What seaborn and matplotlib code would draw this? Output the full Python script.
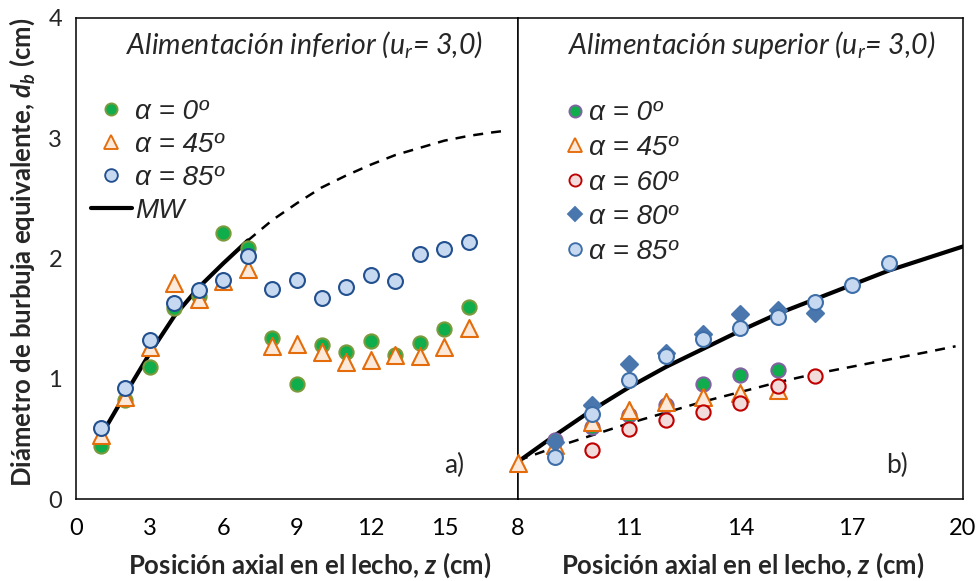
import matplotlib
matplotlib.use("Agg")
import matplotlib.pyplot as plt
import seaborn as sns
import pandas as pd
from matplotlib.lines import Line2D

# ---------------- data: panel a) bottom feed ----------------
z_left = [1, 2, 3, 4, 5, 6, 7, 8, 9, 10, 11, 12, 13, 14, 15, 16]
a0_left = [0.44, 0.82, 1.10, 1.59, 1.69, 2.21, 2.09, 1.34, 0.96, 1.28, 1.22, 1.31, 1.20, 1.30, 1.41, 1.60]
a45_left = [0.53, 0.85, 1.26, 1.80, 1.66, 1.81, 1.91, 1.27, 1.29, 1.22, 1.14, 1.16, 1.20, 1.19, 1.26, 1.42]
a85_left = [0.59, 0.92, 1.32, 1.63, 1.74, 1.82, 2.02, 1.75, 1.82, 1.67, 1.76, 1.86, 1.81, 2.04, 2.08, 2.14]
mw_left_z_solid = [1, 2, 3, 4, 5, 6, 7]
mw_left_solid = [0.52, 0.87, 1.21, 1.52, 1.76, 1.96, 2.15]
mw_left_z_dash = [7, 8, 9, 10, 11, 12, 13, 14, 15, 16, 17, 17.4]
mw_left_dash = [2.15, 2.32, 2.46, 2.59, 2.69, 2.78, 2.86, 2.92, 2.98, 3.02, 3.05, 3.06]

# ---------------- data: panel b) top feed ----------------
z_r0 = [9, 10, 11, 12, 13, 14, 15]
a0_right = [0.49, 0.60, 0.70, 0.78, 0.96, 1.03, 1.07]
z_r45 = [8, 9, 10, 11, 12, 13, 14, 15]
a45_right = [0.30, 0.45, 0.64, 0.74, 0.81, 0.85, 0.88, 0.91]
z_r60 = [10, 11, 12, 13, 14, 15, 16]
a60_right = [0.41, 0.58, 0.66, 0.72, 0.80, 0.94, 1.02]
z_r80 = [9, 10, 11, 12, 13, 14, 15, 16]
a80_right = [0.47, 0.78, 1.12, 1.21, 1.37, 1.54, 1.57, 1.55]
z_r85 = [9, 10, 11, 12, 13, 14, 15, 16, 17, 18]
a85_right = [0.35, 0.71, 0.99, 1.19, 1.33, 1.42, 1.51, 1.64, 1.78, 1.96]
mw_right_z = [8, 9, 10, 11, 12, 13, 14, 15, 16, 17, 18, 19, 20]
mw_right_solid = [0.31, 0.53, 0.74, 0.93, 1.10, 1.25, 1.40, 1.54, 1.66, 1.78, 1.90, 2.00, 2.10]
mw_right_z_dash = [8, 9, 10, 11, 12, 13, 14, 15, 16, 17, 18, 19, 19.8]
mw_right_dash = [0.32, 0.43, 0.53, 0.63, 0.72, 0.81, 0.89, 0.97, 1.04, 1.10, 1.16, 1.22, 1.27]

xticks_left = [0, 3, 6, 9, 12, 15]
xticks_right = [8, 11, 14, 17, 20]
yticks = [0, 1, 2, 3, 4]
title_left = "Alimentación inferior (u$_r$= 3,0)"
title_right = "Alimentación superior (u$_r$= 3,0)"
xlabel = "Posición axial en el lecho, $\\mathbf{z}$ (cm)"
ylabel = "Diámetro de burbuja equivalente, $\\mathbf{d_b}$ (cm)"

sns.set_theme(style="white")
plt.rcParams["font.family"] = ["Lato", "DejaVu Sans"]
plt.rcParams["mathtext.fontset"] = "custom"
plt.rcParams["mathtext.it"] = "Lato:italic"
plt.rcParams["mathtext.rm"] = "Lato"
plt.rcParams["mathtext.bf"] = "Lato:italic:bold"
plt.rcParams["mathtext.default"] = "it"

W, H = 979, 581
fig = plt.figure(figsize=(W / 100, H / 100), dpi=100)
axL = fig.add_axes([76 / W, (H - 499) / H, (518 - 76) / W, (499 - 18) / H])
axR = fig.add_axes([518 / W, (H - 499) / H, (963 - 518) / W, (499 - 18) / H])

TICK_FS = 17
LEG_FS = 20
TITLE_FS = 20.5
LAB_FS = 18.5

def scat(ax, x, y, marker, s, fc, ec, label, lw=1.5, z=3):
    sns.scatterplot(x=x, y=y, ax=ax, marker=marker, s=s, color=fc,
                    edgecolor=ec, linewidth=lw, label=label, zorder=z, legend=False)
    return Line2D([], [], ls="none", marker=marker, markersize=(s ** 0.5) * 0.85,
                  markerfacecolor=fc, markeredgecolor=ec, markeredgewidth=lw * 0.9)

# ---- left panel ----
sns.lineplot(x=mw_left_z_solid, y=mw_left_solid, ax=axL, color="black", lw=3.0,
             estimator=None, legend=False, zorder=2)
sns.lineplot(x=mw_left_z_dash, y=mw_left_dash, ax=axL, color="black", lw=1.8,
             estimator=None, legend=False, zorder=2, linestyle=(0, (4, 3.2)))
hL = []
hL.append(scat(axL, z_left, a0_left, "o", 105, "#0fad4b", "#7a9a3c", "α = 0º"))
hL.append(scat(axL, z_left, a45_left, "^", 150, "#fde9d9", "#e46c0a", "α = 45º"))
hL.append(scat(axL, z_left, a85_left, "o", 115, "#c6d9f1", "#22508f", "α = 85º"))
hL.append(Line2D([], [], color="black", lw=3.0))
axL.legend(hL, ["α = 0º", "α = 45º", "α = 85º", "MW"], loc="upper left",
           bbox_to_anchor=(0.008, 0.855), frameon=False, handlelength=1.5,
           handletextpad=0.1, labelspacing=0.25, borderaxespad=0,
           prop={"family": "Liberation Sans", "style": "italic", "size": LEG_FS})

# ---- right panel ----
sns.lineplot(x=mw_right_z, y=mw_right_solid, ax=axR, color="black", lw=3.0,
             estimator=None, legend=False, zorder=2)
sns.lineplot(x=mw_right_z_dash, y=mw_right_dash, ax=axR, color="black", lw=1.8,
             estimator=None, legend=False, zorder=2, linestyle=(0, (4, 3.2)))
hR = []
hR.append(scat(axR, z_r0, a0_right, "o", 105, "#0fad4b", "#8064a2", "α = 0º"))
hR.append(scat(axR, z_r45, a45_right, "^", 150, "#fde9d9", "#e46c0a", "α = 45º"))
hR.append(scat(axR, z_r60, a60_right, "o", 105, "#f2dcdb", "#c00000", "α = 60º"))
hR.append(scat(axR, z_r80, a80_right, "D", 75, "#4a76ae", "#4a76ae", "α = 80º"))
hR.append(scat(axR, z_r85, a85_right, "o", 115, "#c6d9f1", "#3d6ea8", "α = 85º"))
for coll in axR.collections:
    coll.set_clip_on(False)
axR.legend(hR, ["α = 0º", "α = 45º", "α = 60º", "α = 80º", "α = 85º"], loc="upper left",
           bbox_to_anchor=(0.085, 0.852), frameon=False, handlelength=0.6,
           handletextpad=0.2, labelspacing=0.31, borderaxespad=0,
           prop={"family": "Liberation Sans", "style": "italic", "size": LEG_FS})

# ---- axes formatting ----
for ax in (axL, axR):
    ax.set_ylim(0, 4)
    for sp in ax.spines.values():
        sp.set_visible(True)
        sp.set_color("black")
        sp.set_linewidth(1.1)
    ax.tick_params(axis="x", direction="inout", length=9, width=1.1, labelsize=TICK_FS,
                   pad=9, colors="black")
    ax.set_xlabel("")
    ax.set_ylabel("")

axL.set_xlim(0, 18)
axL.set_xticks(xticks_left)
axL.set_yticks(yticks)
axL.tick_params(axis="y", direction="out", length=7, width=1.1, labelsize=TICK_FS, pad=3)
axR.set_xlim(8, 20)
axR.set_xticks(xticks_right)
axR.set_yticks([])

axL.text(0.516, 0.944, title_left, transform=axL.transAxes, ha="center", va="center",
         fontsize=TITLE_FS, style="italic")
axR.text(0.526, 0.944, title_right, transform=axR.transAxes, ha="center", va="center",
         fontsize=TITLE_FS, style="italic")
axL.text(0.855, 0.07, "a)", transform=axL.transAxes, ha="center", va="center", fontsize=19)
axR.text(0.852, 0.07, "b)", transform=axR.transAxes, ha="center", va="center", fontsize=19)

fig.text(310 / W, 1 - 565 / H, xlabel, ha="center", va="center", fontsize=LAB_FS, fontweight="bold")
fig.text(743 / W, 1 - 565 / H, xlabel, ha="center", va="center", fontsize=LAB_FS, fontweight="bold")
fig.text(22 / W, 1 - 252 / H, ylabel, ha="center", va="center", fontsize=LAB_FS,
         fontweight="bold", rotation=90)

fig.savefig("out.png", dpi=100)
